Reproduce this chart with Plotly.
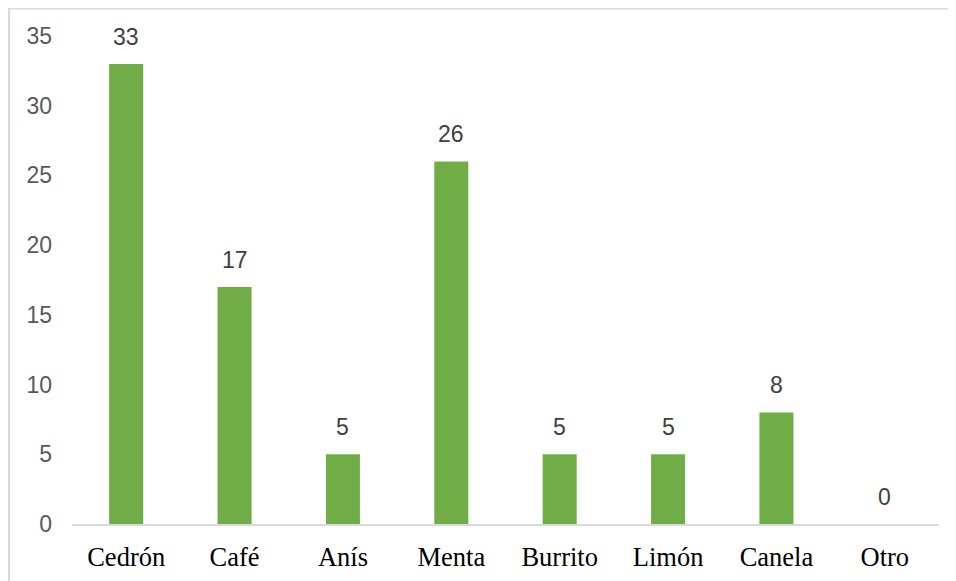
import plotly.graph_objects as go

categories = ["Cedrón", "Café", "Anís", "Menta", "Burrito", "Limón", "Canela", "Otro"]
values = [33, 17, 5, 26, 5, 5, 8, 0]
y_ticks = [0, 5, 10, 15, 20, 25, 30, 35]

W, H = 956, 581
L, R, T, B = 64, 25, 28, 65
PW, PH = W - L - R, H - T - B

fig = go.Figure()
fig.add_trace(go.Bar(
    x=categories, y=values,
    marker=dict(color="#70AD47", line=dict(width=0)),
    hoverinfo="x+y",
))

for c, v in zip(categories, values):
    fig.add_annotation(
        x=c, y=v, text=str(v), showarrow=False,
        yanchor="bottom", yshift=12,
        font=dict(family="Liberation Sans, Arial", size=23, color="#404040"),
    )

# outer chart frame (top and left edges visible)
fig.add_shape(
    type="rect", xref="paper", yref="paper",
    x0=-(L - 1) / PW, x1=1 + (R + 20) / PW,
    y0=-(B + 20) / PH, y1=1 + (T - 0.5) / PH,
    line=dict(color="#D9D9D9", width=2), fillcolor="rgba(0,0,0,0)",
    layer="below",
)

fig.update_layout(
    width=W, height=H,
    margin=dict(l=L, r=R, t=T, b=B, pad=0),
    paper_bgcolor="white", plot_bgcolor="white",
    bargap=0.686,
    showlegend=False,
    xaxis=dict(
        showline=True, linecolor="#D9D9D9", linewidth=2,
        showgrid=False, ticks="",
        tickfont=dict(family="Liberation Serif, Times New Roman", size=26.5, color="#000000"),
        ticklabelstandoff=8,
    ),
    yaxis=dict(
        range=[0, 35], tickvals=y_ticks,
        showgrid=False, zeroline=False, showline=False, ticks="",
        tickfont=dict(family="Liberation Sans, Arial", size=23, color="#595959"),
        ticklabelstandoff=19,
    ),
)

fig.write_html("out.html")
